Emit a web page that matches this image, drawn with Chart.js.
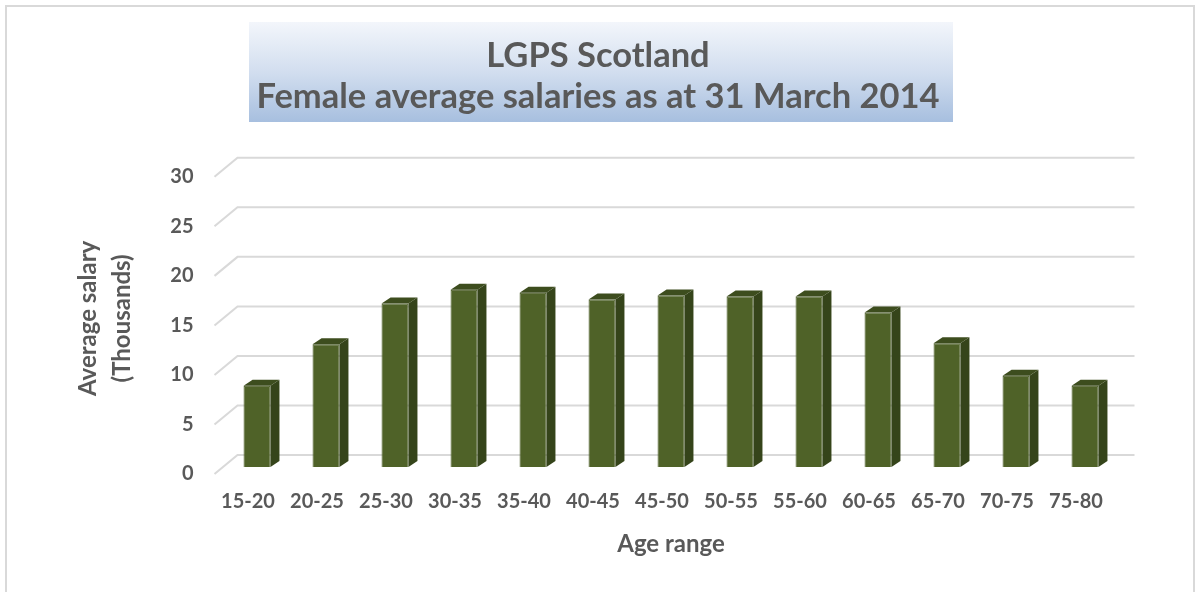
<!DOCTYPE html>
<html><head><meta charset="utf-8">
<script src="https://cdn.jsdelivr.net/npm/chart.js@4.4.1/dist/chart.umd.min.js"></script>
<style>html,body{margin:0;padding:0;background:#fff;overflow:hidden}canvas{display:block}</style>
</head><body>
<canvas id="c" width="1196" height="592"></canvas>
<script>
// ---- data ----
const categories = ['15-20','20-25','25-30','30-35','35-40','40-45','45-50','50-55','55-60','60-65','65-70','70-75','75-80'];
const salaries = [8.2, 12.4, 16.5, 17.9, 17.6, 16.9, 17.3, 17.2, 17.2, 15.6, 12.5, 9.2, 8.2];
const yTicks = [0, 5, 10, 15, 20, 25, 30];
const titleLines = ['LGPS Scotland', 'Female average salaries as at 31 March 2014'];
const yTitle = ['Average salary', '(Thousands)'];
const xTitle = 'Age range';

// ---- style ----
const TEXT = '#595959';
const FONT = 'Lato';
const FRONT = {dx: -8, dy: 7}, BACK = {dx: 15, dy: -12}, BAR3D = {dx: 9, dy: -6};

const depthPlugin = {
  id: 'depth',
  beforeDraw(chart) {
    const ctx = chart.ctx;
    ctx.save();
    ctx.fillStyle = '#fff';
    ctx.fillRect(0, 0, chart.width, chart.height);
    ctx.strokeStyle = '#d9d9d9';
    ctx.lineWidth = 2;
    ctx.strokeRect(6, 6, 1188, 640);
    const g = ctx.createLinearGradient(0, 22, 0, 122);
    g.addColorStop(0, '#f3f6fb');
    g.addColorStop(0.5, '#d2deef');
    g.addColorStop(1, '#a7bfdf');
    ctx.fillStyle = g;
    ctx.fillRect(249, 22, 704, 100);
    ctx.restore();
  },
  beforeDatasetsDraw(chart) {
    const {ctx, chartArea: {left, right}, scales: {y}} = chart;
    ctx.save();
    ctx.strokeStyle = '#d9d9d9';
    ctx.lineWidth = 2;
    y.ticks.forEach(t => {
      const py = y.getPixelForValue(t.value);
      ctx.beginPath();
      ctx.moveTo(left + FRONT.dx, py + FRONT.dy);
      ctx.lineTo(left + BACK.dx, py + BACK.dy);
      ctx.lineTo(right + BACK.dx, py + BACK.dy);
      ctx.stroke();
    });
    ctx.restore();
  },
  afterDatasetsDraw(chart) {
    const ctx = chart.ctx;
    const meta = chart.getDatasetMeta(0);
    ctx.save();
    meta.data.forEach(bar => {
      const {x, y, base, width} = bar.getProps(['x', 'y', 'base', 'width'], true);
      const l = x - width / 2, r = x + width / 2;
      ctx.fillStyle = '#35441a';
      ctx.beginPath();
      ctx.moveTo(r, y); ctx.lineTo(r + BAR3D.dx, y + BAR3D.dy);
      ctx.lineTo(r + BAR3D.dx, base + BAR3D.dy); ctx.lineTo(r, base);
      ctx.closePath(); ctx.fill();
      ctx.fillStyle = '#3d4d1e';
      ctx.beginPath();
      ctx.moveTo(l, y); ctx.lineTo(l + BAR3D.dx, y + BAR3D.dy);
      ctx.lineTo(r + BAR3D.dx, y + BAR3D.dy); ctx.lineTo(r, y);
      ctx.closePath(); ctx.fill();
    });
    ctx.restore();
  }
};

function build() {
  new Chart(document.getElementById('c'), {
    type: 'bar',
    data: {
      labels: categories,
      datasets: [{
        data: salaries,
        yAxisID: 'y',
        backgroundColor: '#4f6228',
        borderColor: '#44561f',
        borderWidth: 1,
        barPercentage: 0.39,
        categoryPercentage: 1
      }]
    },
    options: {
      responsive: false,
      animation: false,
      devicePixelRatio: 1,
      layout: {padding: 0},
      plugins: {
        legend: {display: false},
        tooltip: {enabled: false},
        title: {
          display: true,
          text: titleLines,
          color: TEXT,
          font: {family: FONT, size: 34.5, weight: 'bold', lineHeight: 1.2},
          padding: {top: 35, bottom: 52}
        }
      },
      scales: {
        x: {
          grid: {display: false, drawTicks: false},
          border: {display: false},
          ticks: {
            color: TEXT, font: {family: FONT, size: 20, weight: 'bold'},
            padding: 23, labelOffset: -9, maxRotation: 0, autoSkip: false
          },
          title: {
            display: true, text: xTitle, color: TEXT,
            font: {family: FONT, size: 24, weight: 'bold', lineHeight: 1.2},
            padding: {top: 0, bottom: 33}
          },
          afterFit(scale) { scale.height = 125; }
        },
        y: {
          min: 0, max: 30,
          grid: {display: false, drawTicks: false},
          border: {display: false},
          afterBuildTicks(scale) { scale.ticks = yTicks.map(v => ({value: v})); },
          ticks: {
            color: TEXT, font: {family: FONT, size: 20, weight: 'bold'},
            padding: 29, labelOffset: 7
          },
          title: {
            display: true, text: yTitle, color: TEXT,
            font: {family: FONT, size: 24, weight: 'bold', lineHeight: 1.42},
            padding: {top: 71, bottom: 0}
          },
          afterFit(scale) { scale.width = 222.5; }
        },
        yRight: {
          position: 'right',
          min: 0, max: 30,
          grid: {display: false, drawTicks: false},
          border: {display: false},
          ticks: {display: false},
          afterFit(scale) { scale.width = 76.5; }
        }
      }
    },
    plugins: [depthPlugin]
  });
}
if (document.fonts && document.fonts.load) {
  Promise.all([document.fonts.load('bold 20px Lato')]).then(build, build);
} else build();
</script>
</body></html>
